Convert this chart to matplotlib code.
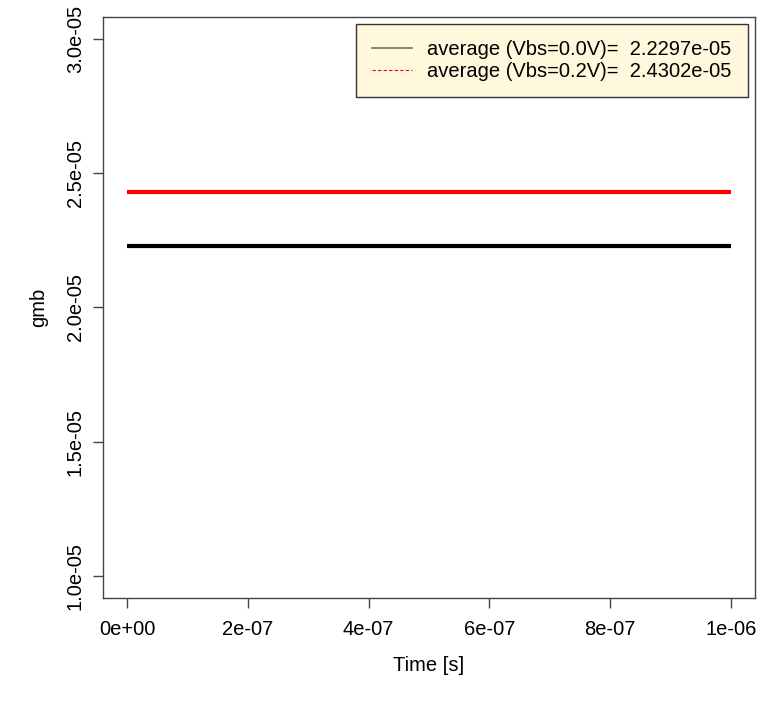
import numpy as np
import matplotlib
matplotlib.use("Agg")
import matplotlib.pyplot as plt
from matplotlib.lines import Line2D

# gmb over time for two body biases (constant averages)
time = [0.0, 1e-06]
gmb_vbs00 = [2.2297e-05, 2.2297e-05]
gmb_vbs02 = [2.4302e-05, 2.4302e-05]
labels = ["average (Vbs=0.0V)=  2.2297e-05",
          "average (Vbs=0.2V)=  2.4302e-05"]
xticks = [0.0, 2e-07, 4e-07, 6e-07, 8e-07, 1e-06]
xticklabels = ["0e+00", "2e-07", "4e-07", "6e-07", "8e-07", "1e-06"]
yticks = [1.0e-05, 1.5e-05, 2.0e-05, 2.5e-05, 3.0e-05]
yticklabels = ["1.0e-05", "1.5e-05", "2.0e-05", "2.5e-05", "3.0e-05"]

plt.rcParams['font.family'] = ['Liberation Sans', 'DejaVu Sans']
fs = 14.5

fig = plt.figure(figsize=(7.61, 7.03), dpi=100)
ax = fig.add_axes([0.1353, 0.1494, 0.8567, 0.8264])

ax.plot(time, gmb_vbs00, color="black", lw=3, solid_capstyle="butt")
ax.plot(time, gmb_vbs02, color="red", lw=3, solid_capstyle="butt")

ax.set_xlim(-0.04e-06, 1.04e-06)
ax.set_ylim(0.92e-05, 3.08e-05)

ax.set_xticks(xticks)
ax.set_xticklabels(xticklabels, fontsize=fs)
ax.set_yticks(yticks)
ax.set_yticklabels(yticklabels, fontsize=fs, rotation=90, va="center")
ax.tick_params(direction="out", length=7, width=1, color="#444444")
ax.tick_params(axis="x", pad=9)
ax.tick_params(axis="y", pad=6)

for s in ax.spines.values():
    s.set_color("#444444")
    s.set_linewidth(1)

ax.set_xlabel("Time [s]", fontsize=fs, labelpad=12)
ax.set_ylabel("gmb", fontsize=fs, labelpad=13)

handles = [Line2D([0], [0], color="#707060", lw=1.2),
           Line2D([0], [0], color="red", lw=0.8, ls=(0, (3, 2)))]
leg = ax.legend(handles, labels, loc="upper right", fontsize=fs,
                fancybox=False, framealpha=1, borderaxespad=0.35,
                handlelength=2.0, handletextpad=0.75, borderpad=0.8,
                labelspacing=0.15)
leg.get_frame().set_facecolor("#FFF8DC")
leg.get_frame().set_edgecolor("#333333")

fig.savefig("out.png", dpi=100)
